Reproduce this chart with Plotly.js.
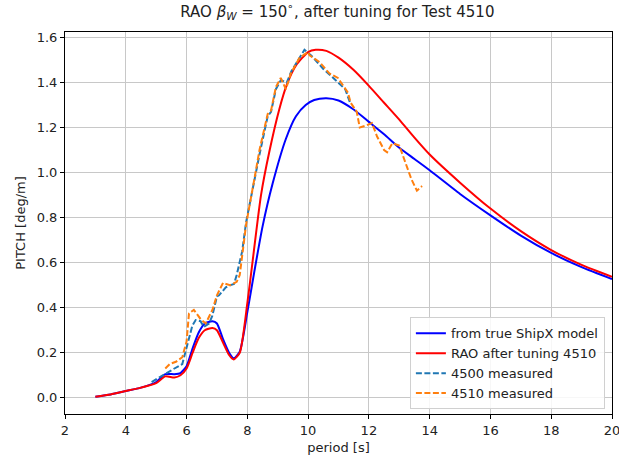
<!DOCTYPE html>
<html>
<head>
<meta charset="utf-8">
<script src="https://cdn.plot.ly/plotly-3.0.1.min.js"></script>
<style>html,body{margin:0;padding:0;background:#fff;}#chart{width:619px;height:460px;}</style>
</head>
<body>
<div id="chart"></div>
<script>
// ShipX model RAO (solid blue)
const shipxPeriod = [3, 3.5, 4, 4.5, 5, 5.3, 5.6, 5.8, 6.0, 6.2, 6.4, 6.6, 6.85, 7.0, 7.2, 7.4, 7.55, 7.75, 8.0, 8.23, 8.5, 8.83, 9.27, 9.6, 9.92, 10.2, 10.6, 11.0, 11.5, 12, 12.5, 13, 13.5, 14, 15, 16, 17, 18, 19, 20];
const shipxPitch  = [0.005, 0.015, 0.03, 0.045, 0.07, 0.105, 0.105, 0.11, 0.14, 0.22, 0.29, 0.33, 0.34, 0.33, 0.26, 0.20, 0.175, 0.205, 0.38, 0.56, 0.76, 0.95, 1.15, 1.25, 1.30, 1.322, 1.33, 1.32, 1.28, 1.225, 1.17, 1.11, 1.06, 1.01, 0.905, 0.81, 0.72, 0.643, 0.58, 0.527];

// RAO after tuning 4510 (solid red)
const tunedPeriod = [3, 3.5, 4, 4.5, 5, 5.3, 5.6, 5.8, 6.0, 6.2, 6.4, 6.6, 6.85, 7.0, 7.2, 7.4, 7.55, 7.75, 8.0, 8.15, 8.45, 8.72, 9.05, 9.3, 9.6, 10.0, 10.25, 10.6, 11.0, 11.5, 12, 12.5, 13, 13.5, 14, 15, 16, 17, 18, 19, 20];
const tunedPitch  = [0.005, 0.015, 0.03, 0.045, 0.065, 0.095, 0.09, 0.10, 0.13, 0.20, 0.265, 0.30, 0.31, 0.30, 0.245, 0.19, 0.17, 0.20, 0.42, 0.58, 0.90, 1.09, 1.28, 1.39, 1.475, 1.535, 1.545, 1.54, 1.51, 1.455, 1.385, 1.31, 1.235, 1.155, 1.08, 0.955, 0.84, 0.74, 0.656, 0.59, 0.537];

// 4500 measured (dashed tab:blue)
const m4500Period = [4.85, 5.1, 5.37, 5.6, 5.86, 6.05, 6.19, 6.3, 6.46, 6.57, 6.74, 6.85, 7.0, 7.07, 7.29, 7.45, 7.56, 7.65, 7.72, 7.83, 7.96, 8.23, 8.4, 8.67, 8.78, 8.94, 9.1, 9.3, 9.45, 9.72, 9.88, 10.1, 10.5, 10.83, 11.22, 11.38];
const m4500Pitch  = [0.07, 0.09, 0.115, 0.13, 0.15, 0.25, 0.32, 0.345, 0.34, 0.315, 0.33, 0.365, 0.45, 0.455, 0.49, 0.50, 0.505, 0.545, 0.59, 0.65, 0.78, 0.97, 1.08, 1.25, 1.27, 1.37, 1.41, 1.40, 1.45, 1.51, 1.545, 1.52, 1.46, 1.42, 1.37, 1.31];

// 4510 measured (dashed tab:orange)
const m4510Period = [5.3, 5.45, 5.65, 5.86, 6.0, 6.08, 6.24, 6.46, 6.63, 6.85, 7.0, 7.2, 7.43, 7.65, 7.75, 7.83, 7.96, 8.23, 8.4, 8.67, 8.78, 8.94, 9.1, 9.27, 9.43, 9.72, 9.99, 10.05, 10.38, 10.7, 10.98, 11.31, 11.4, 11.6, 11.7, 11.93, 12.1, 12.27, 12.5, 12.6, 12.77, 13.0, 13.2, 13.4, 13.58, 13.75];
const m4510Pitch  = [0.13, 0.15, 0.16, 0.18, 0.25, 0.375, 0.39, 0.35, 0.33, 0.39, 0.455, 0.51, 0.50, 0.515, 0.545, 0.63, 0.77, 0.97, 1.10, 1.26, 1.275, 1.38, 1.42, 1.37, 1.44, 1.51, 1.535, 1.52, 1.49, 1.44, 1.42, 1.355, 1.31, 1.27, 1.20, 1.21, 1.22, 1.16, 1.10, 1.09, 1.13, 1.12, 1.04, 0.97, 0.92, 0.94];

const seriesNames = ["from true ShipX model", "RAO after tuning 4510", "4500 measured", "4510 measured"];
const xTicks = [2, 4, 6, 8, 10, 12, 14, 16, 18, 20];
const yTicks = [0.0, 0.2, 0.4, 0.6, 0.8, 1.0, 1.2, 1.4, 1.6];

const font = "DejaVu Sans, sans-serif";
const traces = [
  {x: shipxPeriod, y: shipxPitch, name: seriesNames[0], mode: "lines", line: {color: "#0000ff", width: 2, shape: "spline", smoothing: 0.6}},
  {x: tunedPeriod, y: tunedPitch, name: seriesNames[1], mode: "lines", line: {color: "#ff0000", width: 2, shape: "spline", smoothing: 0.6}},
  {x: m4500Period, y: m4500Pitch, name: seriesNames[2], mode: "lines", line: {color: "#1f77b4", width: 2, dash: "6px,2.5px"}},
  {x: m4510Period, y: m4510Pitch, name: seriesNames[3], mode: "lines", line: {color: "#ff7f0e", width: 2, dash: "6px,2.5px"}}
];

const axisCommon = {
  showline: true, linecolor: "#000", linewidth: 1, mirror: true,
  ticks: "outside", ticklen: 4, tickcolor: "#000", tickwidth: 1,
  showgrid: true, gridcolor: "#c8c8c8", gridwidth: 1, zeroline: false,
  ticklabeloverflow: "allow",
  tickfont: {family: font, size: 13, color: "#222"}
};

const layout = {
  width: 619, height: 460,
  margin: {l: 65, r: 7, t: 32, b: 46},
  paper_bgcolor: "#fff", plot_bgcolor: "#fff",
  font: {family: font, color: "#222"},
  title: {text: "RAO <i>β</i><sub><i>W</i></sub> = 150<sup>∘</sup>, after tuning for Test 4510", font: {family: font, size: 15, color: "#222"}, x: 0.545, xanchor: "center", y: 0.975, yanchor: "middle"},
  xaxis: Object.assign({}, axisCommon, {range: [2, 20], tickvals: xTicks, title: {text: "period [s]", font: {family: font, size: 13}, standoff: 6}}),
  yaxis: Object.assign({}, axisCommon, {range: [-0.072, 1.624], tickvals: yTicks, tickformat: ".1f", title: {text: "PITCH [deg/m]", font: {family: font, size: 13}, standoff: 8}}),
  showlegend: true,
  legend: {x: 0.987, y: 0.012, xanchor: "right", yanchor: "bottom", bgcolor: "rgba(255,255,255,0.85)", bordercolor: "#d0d0d0", borderwidth: 1, font: {family: font, size: 13, color: "#222"}, tracegroupgap: 0}
};

Plotly.newPlot("chart", traces, layout, {displayModeBar: false, staticPlot: true});
</script>
</body>
</html>
